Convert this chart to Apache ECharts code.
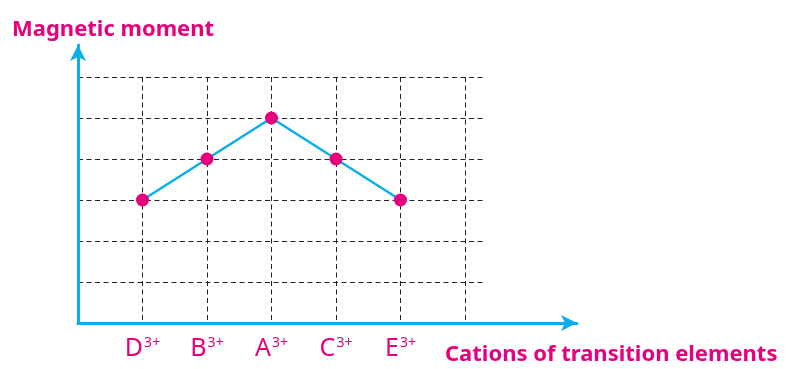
<!DOCTYPE html>
<html>
<head>
<meta charset="utf-8">
<script src="https://cdn.jsdelivr.net/npm/echarts@6/dist/echarts.min.js"></script>
<style>
  html, body { margin: 0; padding: 0; background: #fff; }
  #chart { width: 786px; height: 369px; }
</style>
</head>
<body>
<div id="chart"></div>
<script>
// cations along the x axis, in drawn order
var cations = ["D", "B", "A", "C", "E"];
var charge = "3+";
// magnetic moment, in grid steps
var moments = [3, 4, 5, 4, 3];
var yTicks = [0, 1, 2, 3, 4, 5, 6];

var magenta = "#E6007E";
var cyan = "#0AAEEA";
var dash = "#222";

// empty slot at origin and one past the last cation
var xSlots = [""].concat(cations).concat([""]);
var ySeries = [null].concat(moments).concat([null]);

var chart = echarts.init(document.getElementById("chart"));

var option = {
  animation: false,
  grid: [
    // data + vertical dashed lines
    { left: 78, top: 77, width: 387, height: 246 },
    // horizontal dashed lines (run a bit further right)
    { left: 78, top: 77, width: 405, height: 246 },
    // axis arrows
    { left: 78, top: 45, width: 499, height: 278 }
  ],
  xAxis: [
    {
      gridIndex: 0,
      type: "category",
      boundaryGap: false,
      data: xSlots,
      axisLine: { show: false },
      axisTick: { show: false },
      axisLabel: {
        margin: 13,
        interval: 0,
        formatter: function (v) {
          return v ? "{b|" + v + "}{s|" + charge + "}" : "";
        },
        rich: {
          b: { fontFamily: "Noto Sans", fontSize: 25, color: magenta },
          s: { fontFamily: "Noto Sans", fontSize: 14, color: magenta, verticalAlign: "top", padding: [0, 0, 8, 1] }
        }
      },
      splitLine: { show: true, lineStyle: { color: dash, width: 1, type: [5, 3.5] } }
    },
    { gridIndex: 1, type: "value", min: 0, max: 1, show: false },
    {
      gridIndex: 2,
      type: "value",
      min: 0,
      max: 1,
      axisLine: { show: true, symbol: ["none", "arrow"], symbolSize: [12, 16], lineStyle: { color: cyan, width: 3 } },
      axisTick: { show: false },
      axisLabel: { show: false },
      splitLine: { show: false }
    }
  ],
  yAxis: [
    { gridIndex: 0, type: "value", min: yTicks[0], max: yTicks[yTicks.length - 1], interval: 1, show: false },
    {
      gridIndex: 1,
      type: "value",
      min: yTicks[0],
      max: yTicks[yTicks.length - 1],
      interval: 1,
      axisLine: { show: false },
      axisTick: { show: false },
      axisLabel: { show: false },
      splitLine: { show: true, lineStyle: { color: dash, width: 1, type: [5, 3.5] } }
    },
    {
      gridIndex: 2,
      type: "value",
      min: 0,
      max: 1,
      axisLine: { show: true, symbol: ["none", "arrow"], symbolSize: [12, 16], lineStyle: { color: cyan, width: 3 } },
      axisTick: { show: false },
      axisLabel: { show: false },
      splitLine: { show: false }
    }
  ],
  graphic: [
    {
      type: "text",
      left: 12,
      top: 19,
      style: { text: "Magnetic moment", fill: magenta, font: "bold 22px 'Noto Sans'" }
    },
    {
      type: "text",
      left: 445,
      top: 344,
      style: { text: "Cations of transition elements", fill: magenta, font: "bold 22px 'Noto Sans'" }
    }
  ],
  series: [
    {
      type: "line",
      xAxisIndex: 0,
      yAxisIndex: 0,
      data: ySeries,
      z: 5,
      symbol: "circle",
      symbolSize: 13,
      lineStyle: { color: cyan, width: 2.5 },
      itemStyle: { color: magenta },
      emphasis: { disabled: true }
    }
  ]
};

chart.setOption(option);
</script>
</body>
</html>
